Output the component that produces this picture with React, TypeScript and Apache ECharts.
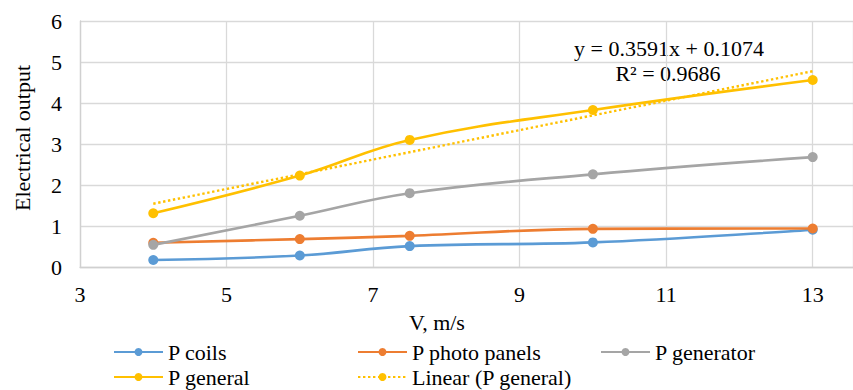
import React, { useEffect, useRef } from "react";
import * as echarts from "echarts";

const speeds = [4, 6, 7.5, 10, 13];
const pCoils = [0.17, 0.28, 0.51, 0.6, 0.91];
const pPhotoPanels = [0.59, 0.68, 0.76, 0.93, 0.94];
const pGenerator = [0.54, 1.25, 1.8, 2.26, 2.68];
const pGeneral = [1.31, 2.23, 3.1, 3.83, 4.56];
const trendSlope = 0.3591;
const trendIntercept = 0.1074;
const trendX = [4, 13];
const equationText = "y = 0.3591x + 0.1074";
const r2Text = "R² = 0.9686";
const seriesNames = ["P coils", "P photo panels", "P generator", "P general", "Linear (P general)"];
const colors = ["#5B9BD5", "#ED7D31", "#A5A5A5", "#FFC000", "#FFC000"];

const FONT = '"Liberation Serif", "Times New Roman", serif';

export default function App() {
  const ref = useRef<HTMLDivElement>(null);
  useEffect(() => {
    if (!ref.current) return;
    const chart = echarts.init(ref.current, undefined, { renderer: "svg" });
    const pair = (vals: number[]) => speeds.map((x, i) => [x, vals[i]]);
    const dataSets = [pCoils, pPhotoPanels, pGenerator, pGeneral];
    const lineSeries: any[] = dataSets.map((vals, i) => ({
      name: seriesNames[i],
      type: "line",
      data: pair(vals),
      smooth: 0.4,
      symbol: "circle",
      symbolSize: 10,
      z: 3 + i,
      itemStyle: { color: colors[i] },
      lineStyle: { color: colors[i], width: 2.6 },
    }));
    lineSeries.push({
      name: seriesNames[4],
      type: "line",
      data: trendX.map((x) => [x, trendSlope * x + trendIntercept]),
      symbol: "none",
      z: 2,
      itemStyle: { color: colors[4] },
      lineStyle: { color: colors[4], width: 2.4, type: [2.4, 2.6] },
    });
    const legendPos = [
      [113, 341],
      [357, 341],
      [600, 341],
      [113, 366],
      [357, 366],
    ];
    const legends = seriesNames.map((n, i) => ({
      data: [n],
      left: legendPos[i][0],
      top: legendPos[i][1],
      padding: 0,
      itemWidth: 49,
      itemHeight: 10,
      itemGap: 0,
      textStyle: { fontFamily: FONT, fontSize: 22, color: "#000", padding: [0, 0, 0, 0] },
      selectedMode: false,
    }));
    chart.setOption({
      animation: false,
      backgroundColor: "#fff",
      grid: { left: 80, right: 0, top: 21, bottom: 123 },
      legend: legends,
      xAxis: {
        type: "value",
        min: 3,
        max: 13.55,
        interval: 2,
        axisLine: { show: true, lineStyle: { color: "#d0d0d0", width: 1.3 } },
        axisTick: { show: false },
        axisLabel: { showMaxLabel: false, fontFamily: FONT, fontSize: 22, color: "#000", margin: 16 },
        splitLine: { show: true, lineStyle: { color: "#d9d9d9", width: 1.3 } },
      },
      yAxis: {
        type: "value",
        min: 0,
        max: 6,
        interval: 1,
        axisLine: { show: true, lineStyle: { color: "#d0d0d0", width: 1.3 } },
        axisTick: { show: false },
        axisLabel: { fontFamily: FONT, fontSize: 22, color: "#000", margin: 18 },
        splitLine: { show: true, lineStyle: { color: "#d9d9d9", width: 1.3 } },
      },
      graphic: [
        {
          type: "text",
          x: 437,
          y: 322,
          style: { text: "V, m/s", font: `22px ${FONT}`, fill: "#000", textAlign: "center", textVerticalAlign: "middle" },
        },
        {
          type: "text",
          x: 22,
          y: 138,
          rotation: Math.PI / 2,
          style: { text: "Electrical output", font: `22px ${FONT}`, fill: "#000", textAlign: "center", textVerticalAlign: "middle" },
        },
        {
          type: "text",
          x: 669,
          y: 48,
          style: { text: equationText, font: `22px ${FONT}`, fill: "#000", textAlign: "center", textVerticalAlign: "middle" },
        },
        {
          type: "text",
          x: 668,
          y: 73,
          style: { text: r2Text, font: `22px ${FONT}`, fill: "#000", textAlign: "center", textVerticalAlign: "middle" },
        },
      ],
      series: lineSeries,
    });
    return () => chart.dispose();
  }, []);
  return (
    <div
      ref={ref}
      style={{ position: "fixed", left: 0, top: 0, width: 853, height: 390, background: "#fff" }}
    />
  );
}
